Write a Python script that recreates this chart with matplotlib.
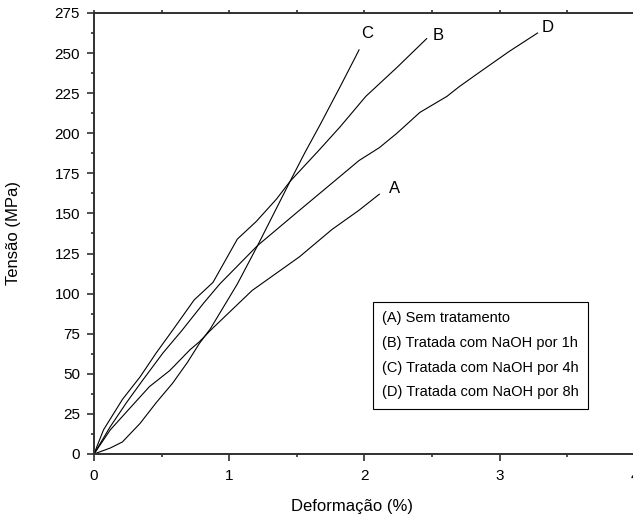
import matplotlib
matplotlib.use("Agg")
import matplotlib.pyplot as plt
from matplotlib.ticker import MultipleLocator

plt.rcParams["font.family"] = ["Liberation Sans", "DejaVu Sans"]

# Strain (%) / stress (MPa) curves read along each specimen
strain_a = [0, 0.12, 0.27, 0.41, 0.56, 0.71, 0.78, 0.86, 1.17, 1.52, 1.76, 1.96, 2.11]
stress_a = [0, 15, 29, 42, 52, 65, 70, 77, 102, 123, 140, 152, 162]

strain_b = [0, 0.07, 0.21, 0.34, 0.46, 0.58, 0.74, 0.88, 0.98, 1.06, 1.2, 1.35, 1.45,
            1.67, 1.82, 2.01, 2.24, 2.46]
stress_b = [0, 15, 34, 48, 63, 77, 96, 107, 122, 134, 145, 159, 170,
            190, 204, 223, 241, 259]

strain_c = [0, 0.12, 0.21, 0.34, 0.46, 0.58, 0.69, 0.78, 0.86, 1.06, 1.21, 1.45,
            1.56, 1.67, 1.82, 1.93, 1.96]
stress_c = [0, 3.7, 7.5, 19, 32, 44, 57, 69, 78, 106, 130, 170,
            188, 205, 229, 247, 252]

strain_d = [0, 0.12, 0.24, 0.36, 0.51, 0.65, 0.81, 0.93, 1.21, 1.52, 1.79, 1.96,
            2.11, 2.24, 2.41, 2.61, 2.70, 2.85, 3.07, 3.28]
stress_d = [0, 17, 32, 46, 63, 77, 94, 106, 130, 152, 171, 183,
            191, 200, 213, 223, 229, 238, 251, 262.5]

curve_tags = ["A", "B", "C", "D"]
legend_labels = [
    "(A) Sem tratamento",
    "(B) Tratada com NaOH por 1h",
    "(C) Tratada com NaOH por 4h",
    "(D) Tratada com NaOH por 8h",
]

curves = [(strain_a, stress_a), (strain_b, stress_b),
          (strain_c, stress_c), (strain_d, stress_d)]
# tag offsets from the curve end, in points
tag_offsets = [(11, 4), (8, 2), (6, 12), (7, 4)]

fig = plt.figure(figsize=(6.33, 5.17), dpi=100)
ax = fig.add_axes([0.1485, 0.1219, 0.8545, 0.853])

handles = []
for (x, y), lab in zip(curves, legend_labels):
    (h,) = ax.plot(x, y, color="black", lw=0.8, label=lab)
    handles.append(h)

for (x, y), tag, off in zip(curves, curve_tags, tag_offsets):
    ax.annotate(tag, (x[-1], y[-1]), xytext=off, textcoords="offset points",
                ha="center", va="center", fontsize=12)

ax.set_xlim(0, 4)
ax.set_ylim(0, 275)
ax.xaxis.set_major_locator(MultipleLocator(1))
ax.xaxis.set_minor_locator(MultipleLocator(0.5))
ax.yaxis.set_major_locator(MultipleLocator(25))
ax.yaxis.set_minor_locator(MultipleLocator(12.5))

spine_color = "#303030"
for side in ["left", "bottom", "top"]:
    ax.spines[side].set_color(spine_color)
    ax.spines[side].set_linewidth(1.4)
ax.spines["right"].set_visible(False)

ax.tick_params(which="major", direction="out", length=5, width=1.2,
               color=spine_color, labelsize=11, pad=5)
ax.tick_params(which="minor", direction="out", length=2.5, width=1.2,
               color=spine_color)
ax.tick_params(axis="x", which="both", pad=6)

# short ticks along the top spine
top = ax.secondary_xaxis("top")
top.xaxis.set_major_locator(MultipleLocator(0.5))
top.tick_params(which="both", direction="out", length=2, width=1.2,
                color=spine_color, labeltop=False)
top.spines["top"].set_visible(False)

ax.set_xlabel("Deformação (%)", fontsize=12)
ax.set_ylabel("Tensão (MPa)", fontsize=12)
ax.xaxis.set_label_coords(0.477, -0.102)
ax.yaxis.set_label_coords(-0.135, 0.5)

leg = ax.legend(handles=handles, loc="upper left", bbox_to_anchor=(2.06, 94.8),
                bbox_transform=ax.transData, borderaxespad=0, fontsize=10.5,
                handlelength=0, handletextpad=0, fancybox=False, framealpha=1,
                edgecolor="black", labelspacing=0.73, borderpad=0.65)
leg.get_frame().set_linewidth(0.8)

fig.savefig("out.png", dpi=100)
